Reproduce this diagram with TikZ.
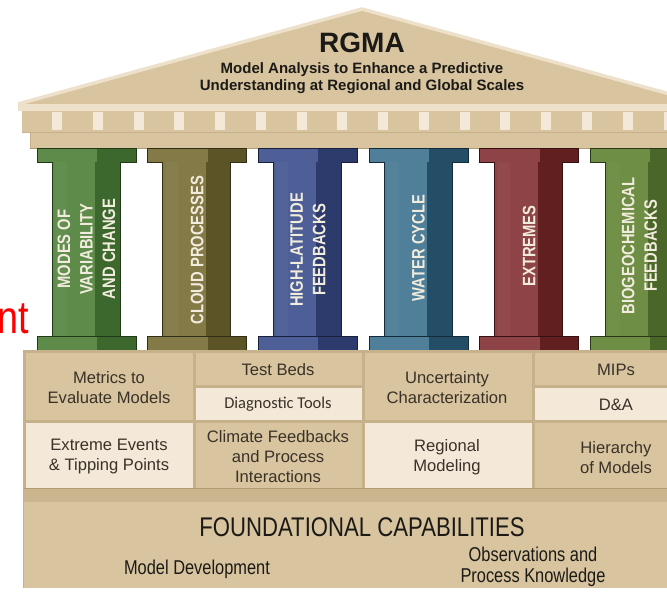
\documentclass[tikz,border=0pt]{standalone}
\usepackage{fontspec}
\setmainfont{Liberation Sans}
\newfontfamily\narrowfont[FakeStretch=0.82]{Liberation Sans}
\newfontfamily\calfont{Carlito}

% stone and text colours
\definecolor{stone}{HTML}{D8C59F}
\definecolor{stonelight}{HTML}{EEE1CB}
\definecolor{stoneedge}{HTML}{C6B18A}
\definecolor{stonedark}{HTML}{B29C74}
\definecolor{cream}{HTML}{F4E9D8}
\definecolor{inkdark}{HTML}{1C1A17}
\definecolor{inktable}{HTML}{3A3229}
\definecolor{pillartext}{HTML}{F1ECDD}
% pillar colours (light face / shaded face)
\definecolor{gAl}{HTML}{5E8B4A}\definecolor{gAd}{HTML}{3C682D}
\definecolor{olL}{HTML}{847A48}\definecolor{olD}{HTML}{5C5326}
\definecolor{blL}{HTML}{4D5F96}\definecolor{blD}{HTML}{2C3B6B}
\definecolor{tlL}{HTML}{4F7F99}\definecolor{tlD}{HTML}{234E66}
\definecolor{rdL}{HTML}{8E4446}\definecolor{rdD}{HTML}{61201F}
\definecolor{gBl}{HTML}{6D8E44}\definecolor{gBd}{HTML}{4A6628}

\tikzset{
  pillartxt/.style={rotate=90, align=center, text=pillartext, inner sep=0pt,
    font=\narrowfont\bfseries\fontsize{18}{22.5}\selectfont},
  celltxt/.style={align=center, text=inktable, inner sep=0pt,
    font=\fontsize{16.6}{20}\selectfont},
  basetxt/.style={align=center, text=inkdark, inner sep=0pt,
    font=\narrowfont\fontsize{20}{21}\selectfont},
  darkcell/.style={fill=stone},
  lightcell/.style={fill=cream},
}

\begin{document}
\begin{tikzpicture}[x=1pt,y=-1pt]
\useasboundingbox (0,0) rectangle (667,592);
\clip (0,0) rectangle (667,592);

% ---------- pediment ----------
\fill[stone] (18,105) -- (362,9) -- (706,105) -- cycle;
\draw[stonelight, line width=3.5pt, line join=round] (18,104) -- (362,9) -- (706,104);

\node[text=inkdark, inner sep=0pt, font=\bfseries\fontsize{28}{30}\selectfont] (title) at (362,43) {RGMA};
\node[text=inkdark, inner sep=0pt, align=center, font=\bfseries\fontsize{15}{17}\selectfont] (subtitle) at (362,78.5)
  {Model Analysis to Enhance a Predictive\\Understanding at Regional and Global Scales};

% ---------- cornice and entablature ----------
\fill[stonelight] (18,104) rectangle (706,111);
\fill[stone] (22,111) rectangle (702,132);
\fill[stone] (30,132) rectangle (694,148);
\draw[stoneedge, line width=0.8pt] (22,132) -- (702,132);
\draw[stonedark, line width=0.8pt] (30,148) -- (694,148);
\draw[stoneedge, line width=0.8pt] (30,132) -- (30,148);
\foreach \k in {0,...,15}{
  \fill[cream] ({52+40.77*\k},112) rectangle ({62+40.77*\k},130);
}

% ---------- pillars ----------
\foreach \i/\lt/\dk in {0/gAl/gAd,1/olL/olD,2/blL/blD,3/tlL/tlD,4/rdL/rdD,5/gBl/gBd}{
  \pgfmathsetmacro{\L}{37+110.65*\i}
  % capital
  \fill[\lt] (\L,148) rectangle (\L+60,162);
  \fill[\dk] (\L+60,148) rectangle (\L+99,162);
  \draw[\dk!55!black, line width=0.7pt] (\L,148) rectangle (\L+99,162);
  % shaft
  \fill[\lt] (\L+15,162) rectangle (\L+58,336);
  \fill[\dk] (\L+58,162) rectangle (\L+83,336);
  \fill[\lt!80!white, opacity=0.15] (\L+18,162) rectangle (\L+30,336);
  \draw[\dk!55!black, line width=0.7pt] (\L+15,162) -- (\L+15,336) (\L+83,162) -- (\L+83,336);
  % base
  \fill[\lt] (\L,336) rectangle (\L+60,350);
  \fill[\dk] (\L+60,336) rectangle (\L+99,350);
  \draw[\dk!55!black, line width=0.7pt] (\L,336) rectangle (\L+99,350);
}

\node[pillartxt] (p1) at (86.5,249) {MODES OF\\VARIABILITY\\AND CHANGE};
\node[pillartxt] (p2) at (197.2,250) {CLOUD PROCESSES};
\node[pillartxt] (p3) at (308,250) {HIGH-LATITUDE\\FEEDBACKS};
\node[pillartxt] (p4) at (418.5,248) {WATER CYCLE};
\node[pillartxt] (p5) at (529.1,246) {EXTREMES};
\node[pillartxt] (p6) at (639.5,246) {BIOGEOCHEMICAL\\FEEDBACKS};

% ---------- red fragment at the left edge ----------
\node[anchor=base east, text=red, inner sep=0pt, font=\narrowfont\fontsize{46}{46}\selectfont] (frag) at (29,333) {nt};

% ---------- cross-cutting activities ----------
\fill[stoneedge] (23,350) rectangle (701,488);
\fill[darkcell]  (25.5,353) rectangle (193,420);
\fill[darkcell]  (196,353) rectangle (362,385);
\fill[lightcell] (196,388) rectangle (362,420);
\fill[darkcell]  (365,353) rectangle (532,420);
\fill[darkcell]  (535,353) rectangle (698.5,385);
\fill[lightcell] (535,388) rectangle (698.5,420);
\fill[lightcell] (25.5,423) rectangle (193,488);
\fill[darkcell]  (196,423) rectangle (362,488);
\fill[lightcell] (365,423) rectangle (532,488);
\fill[darkcell]  (535,423) rectangle (698.5,488);

\node[celltxt] (metrics) at (109,387.5) {Metrics to\\Evaluate Models};
\node[celltxt] (testbeds) at (278,370) {Test Beds};
\node[celltxt, font=\calfont\fontsize{16.5}{20}\selectfont] (diag) at (278,404) {Diagnostic Tools};
\node[celltxt] (uncert) at (447,387.5) {Uncertainty\\Characterization};
\node[celltxt] (mips) at (616,370) {MIPs};
\node[celltxt] (da) at (616,405) {D\&A};
\node[celltxt] (extreme) at (109,457) {Extreme Events\\\& Tipping Points};
\node[celltxt] (climfb) at (278,457) {Climate Feedbacks\\and Process\\Interactions};
\node[celltxt] (regional) at (447,457.5) {Regional\\Modeling};
\node[celltxt] (hier) at (616,457.5) {Hierarchy\\of Models};

% ---------- foundation ----------
\fill[stoneedge!80!stone] (23,488) rectangle (701,502);
\draw[stonedark, line width=0.8pt] (23,488.5) -- (701,488.5);
\draw[stoneedge, line width=0.8pt] (23,502) -- (701,502);
\fill[stone] (23,502.4) rectangle (701,588);
\draw[stoneedge, line width=0.8pt] (23.4,488) -- (23.4,588);

\node[basetxt, font=\narrowfont\fontsize{27}{28}\selectfont] (found) at (362,527) {FOUNDATIONAL CAPABILITIES};
\node[basetxt] (modeldev) at (197,569) {Model Development};
\node[basetxt] (obs) at (533,567) {Observations and\\Process Knowledge};
\end{tikzpicture}
\end{document}
